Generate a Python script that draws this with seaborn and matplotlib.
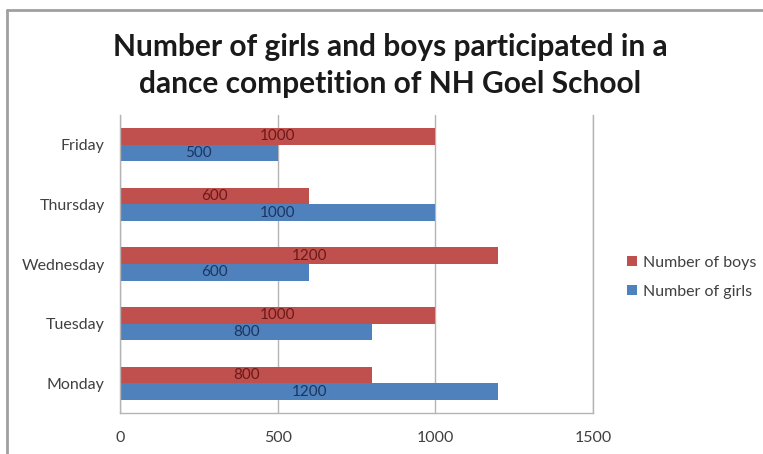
import matplotlib
matplotlib.use('Agg')
import matplotlib.pyplot as plt
from matplotlib.lines import Line2D
import seaborn as sns
import pandas as pd

days = ['Friday', 'Thursday', 'Wednesday', 'Tuesday', 'Monday']
boys = [1000, 600, 1200, 1000, 800]
girls = [500, 1000, 600, 800, 1200]
series = ['Number of boys', 'Number of girls']
x_ticks = [0, 500, 1000, 1500]

df = pd.DataFrame({
    'Day': days * 2,
    'Count': boys + girls,
    'Series': [series[0]] * len(days) + [series[1]] * len(days),
})

sns.set_theme(style='white')
plt.rcParams['font.family'] = ['Lato', 'DejaVu Sans']

red = '#C0504D'
blue = '#4F81BD'
grid_col = '#b4b4b4'

fig = plt.figure(figsize=(7.63, 4.54), dpi=100)
ax = fig.add_axes([0.1573, 0.0903, 0.6199, 0.6564])

sns.barplot(data=df, y='Day', x='Count', hue='Series', order=days,
            hue_order=series, palette=[red, blue], orient='h',
            width=0.56, gap=0, saturation=1, linewidth=0, ax=ax, legend=True)

# value labels inside the bars
label_cols = ['#6b1a1a', '#1c3560']
for cont, col in zip(ax.containers, label_cols):
    ax.bar_label(cont, label_type='center', fontsize=11, color=col)

ax.set_xlim(0, 1500)
ax.set_ylim(4.5, -0.5)
ax.set_xticks(x_ticks)
ax.set_xticklabels([str(t) for t in x_ticks])
ax.set_xlabel('')
ax.set_ylabel('')
ax.xaxis.grid(True, color=grid_col, linewidth=1)
ax.set_axisbelow(True)
ax.tick_params(axis='both', length=0, labelsize=11.5, colors='#404040')
ax.tick_params(axis='y', pad=11)
ax.tick_params(axis='x', pad=13)
ax.spines['top'].set_visible(False)
for s in ['left', 'bottom', 'right']:
    ax.spines[s].set_color(grid_col)
    ax.spines[s].set_linewidth(1)

leg = ax.legend(loc='center left', bbox_to_anchor=(0.803, 0.389),
                bbox_transform=fig.transFigure, frameon=False,
                handlelength=0.6, handleheight=0.6, handletextpad=0.4,
                labelspacing=0.95, fontsize=11.5)
for t in leg.get_texts():
    t.set_color('#404040')

fig.text(0.511, 0.855,
         'Number of girls and boys participated in a\ndance competition of NH Goel School',
         ha='center', va='center', fontsize=21.5, fontweight='bold',
         color='#1a1a1a', linespacing=1.4)

# outer chart frame (top and left edges visible)
fig.add_artist(Line2D([0.009, 1.0], [0.977, 0.977], color='#a0a0a0',
                      linewidth=2, transform=fig.transFigure))
fig.add_artist(Line2D([0.009, 0.009], [0.0, 0.977], color='#a0a0a0',
                      linewidth=2, transform=fig.transFigure))

fig.savefig('out.png', dpi=100)
